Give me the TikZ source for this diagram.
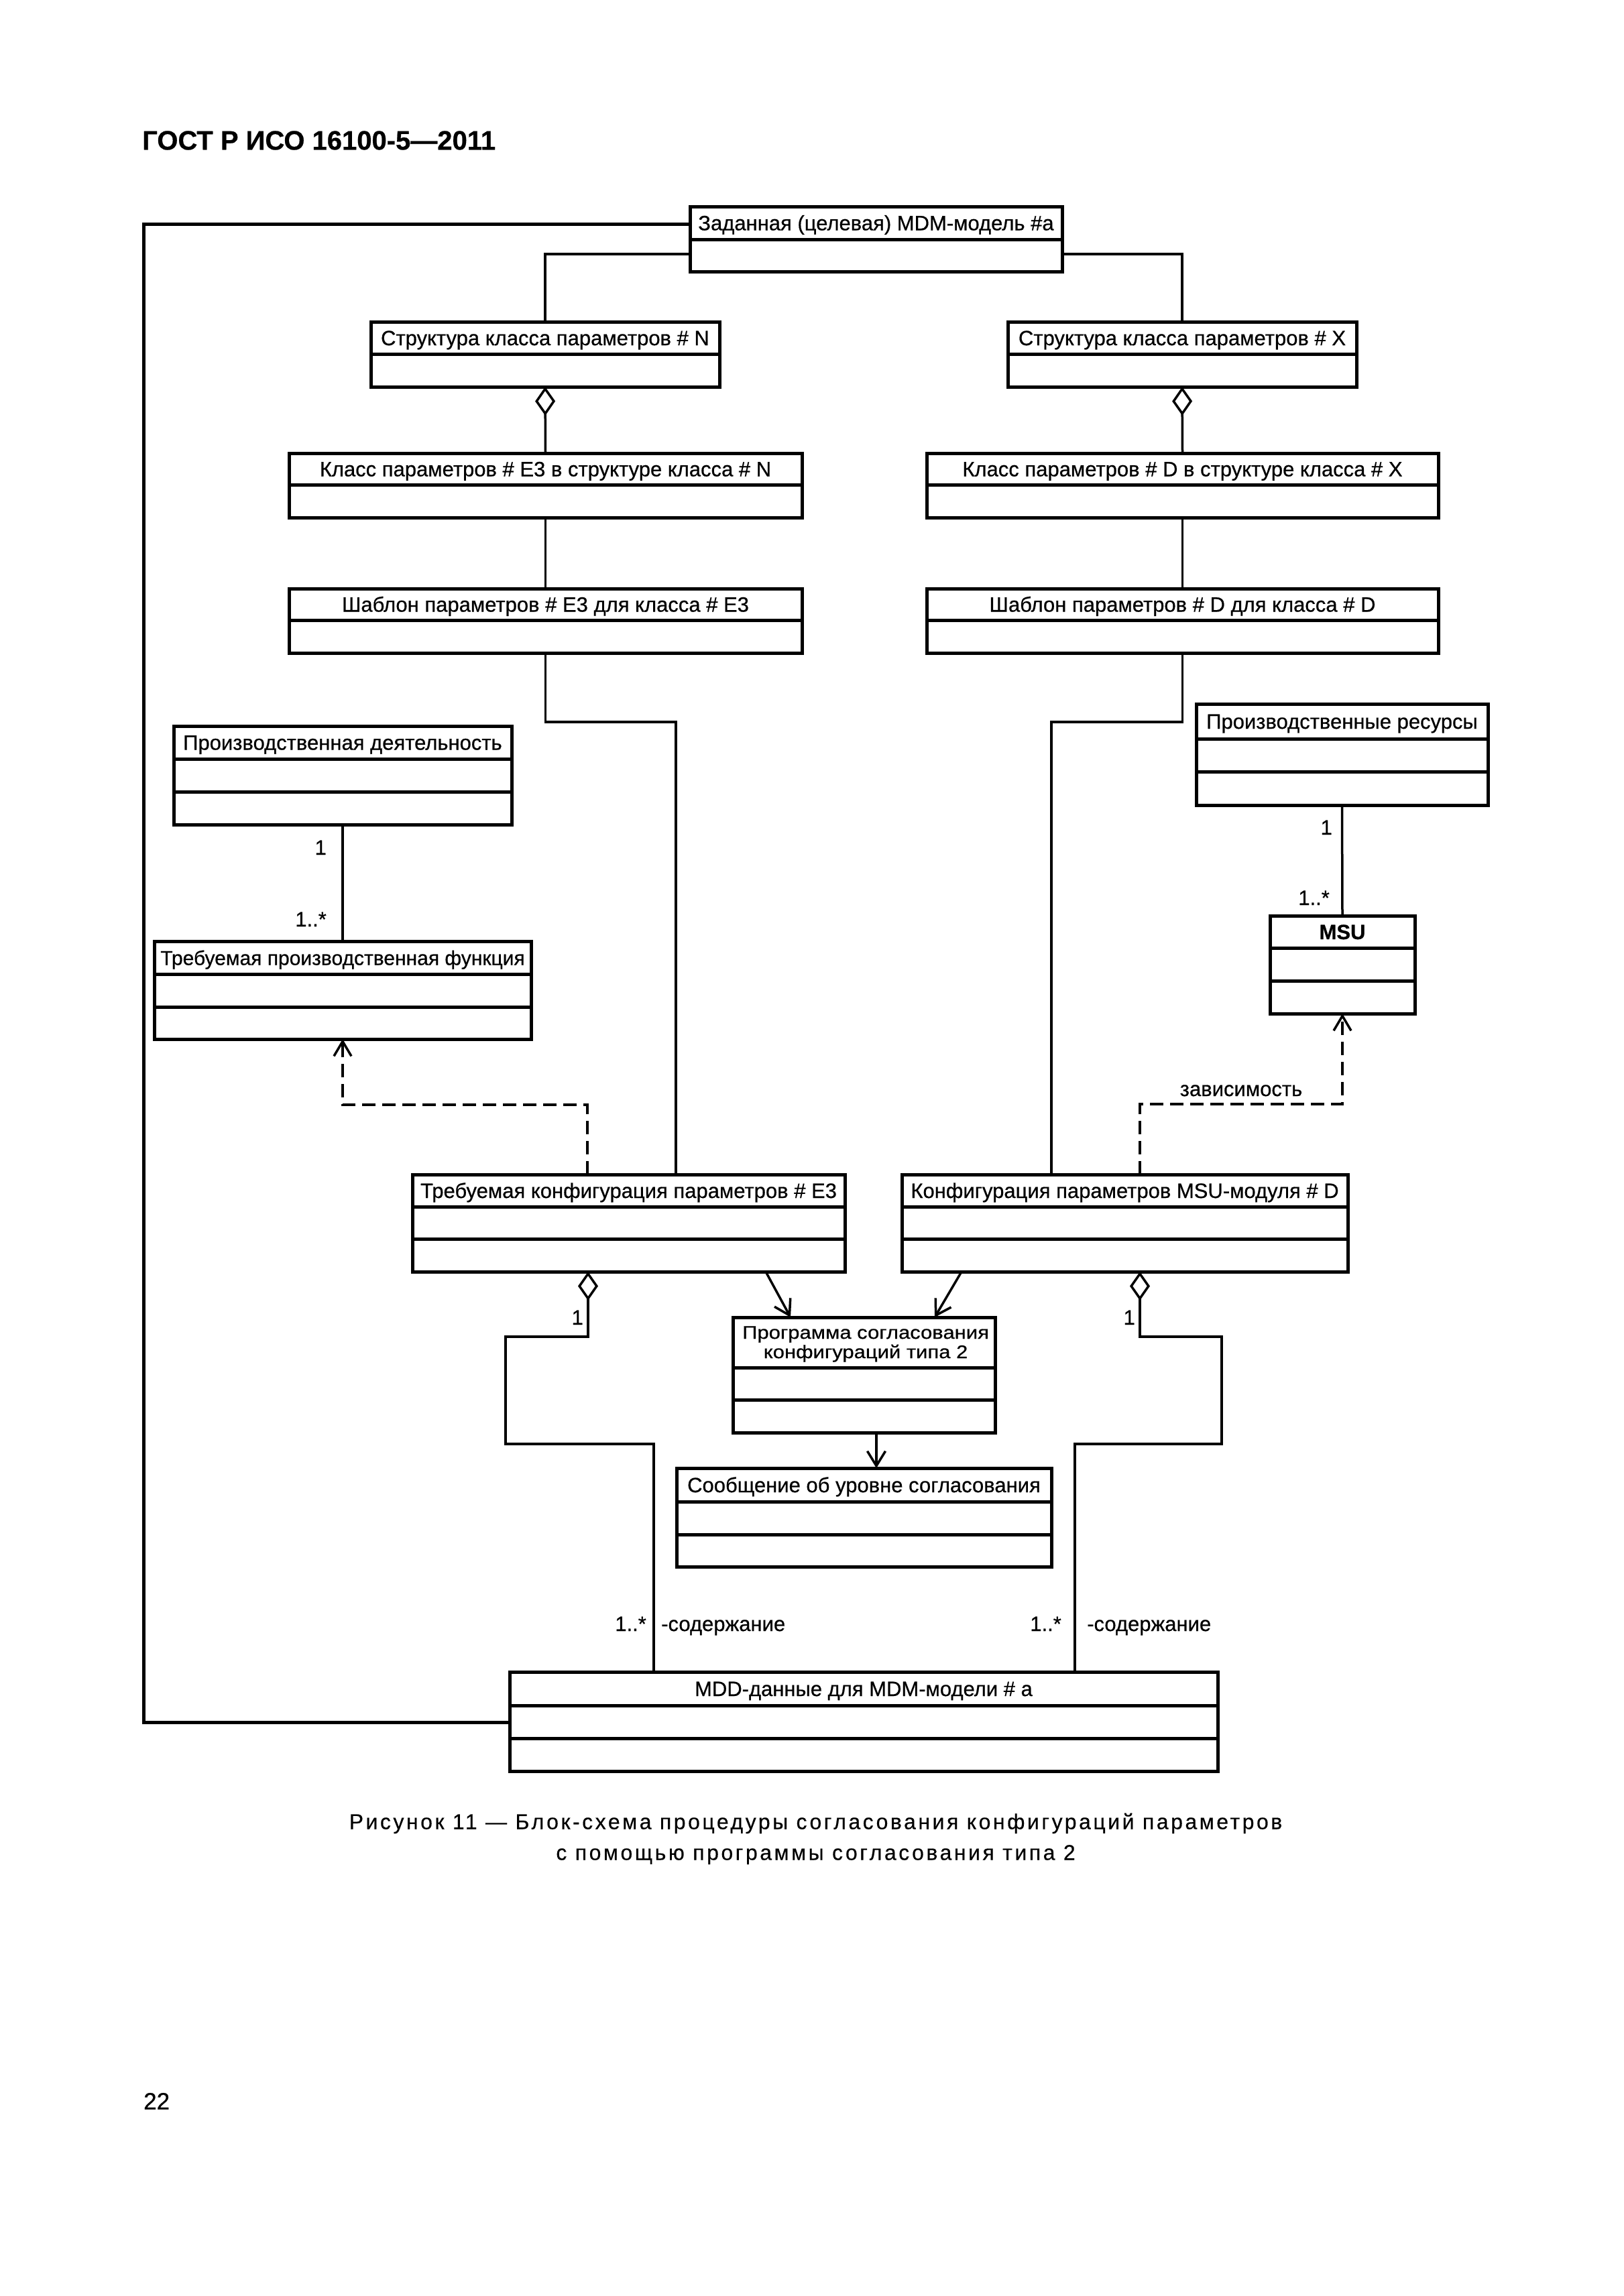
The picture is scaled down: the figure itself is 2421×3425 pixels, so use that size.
\documentclass[tikz,border=0pt]{standalone}
\usepackage{fontspec}
\setmainfont{Liberation Sans}[FakeBold=0.6]
\newfontfamily\capfont{Liberation Sans}[LetterSpace=11,FakeBold=0.4]
\usetikzlibrary{arrows.meta}
\tikzset{
  umlbox/.style={draw, rectangle, line width=5pt, inner sep=0pt, outer sep=0pt},
  boxline/.style={line width=5pt},
  lbl/.style={font=\fontsize{31}{32}\selectfont, inner sep=0pt, text height=22pt, text depth=0pt},
  conn/.style={line width=3.5pt},
  fb/.style={line width=5pt},
  arr/.style={conn, -{Straight Barb[length=22pt,width=27pt]}},
  dep/.style={conn, dash pattern=on 20pt off 10pt, -{Straight Barb[length=22pt,width=26pt]}},
  agg/.style={conn, {Diamond[fill=white,length=43pt,width=30pt]}-},
}
% #1 name, #2 left, #3 right, #4 top, #5 divider, #6 bottom, #7 text
\newcommand{\uboxii}[7]{%
  \node[umlbox, minimum width={#3-#2}, minimum height={#6-#4}] (#1) at ({(#2+#3)/2},{(#4+#6)/2}) {};
  \draw[boxline] (#2,#5) -- (#3,#5);
  \node[lbl] (#1-t) at ({(#2+#3)/2},{(#4+#5)/2}) {#7};
}
% #1 name, #2 left, #3 right, #4 top, #5 div1, #6 div2, #7 bottom, #8 text
\newcommand{\uboxiii}[8]{%
  \node[umlbox, minimum width={#3-#2}, minimum height={#7-#4}] (#1) at ({(#2+#3)/2},{(#4+#7)/2}) {};
  \draw[boxline] (#2,#5) -- (#3,#5);
  \draw[boxline] (#2,#6) -- (#3,#6);
  \node[lbl] (#1-t) at ({(#2+#3)/2},{(#4+#5)/2}) {#8};
}
\begin{document}
\begin{tikzpicture}[x=1pt,y=-1pt]
\fill[white] (0,0) rectangle (2421,3425);
\useasboundingbox (0,0) rectangle (2421,3425);

\node[anchor=west, inner sep=0pt, font=\bfseries\fontsize{40}{42}\selectfont] (title) at (212,209.5) {ГОСТ Р ИСО 16100-5—2011};

\uboxii{model}{1029}{1584}{308}{357}{405}{Заданная (целевая) MDM-модель \#a}
\uboxii{sN}{553}{1073}{480}{528}{577}{Структура класса параметров \# N}
\uboxii{sX}{1503}{2023}{480}{528}{577}{Структура класса параметров \# X}
\uboxii{cE}{431}{1196}{676}{723}{772}{Класс параметров \# Е3 в структуре класса \# N}
\uboxii{cD}{1382}{2145}{676}{723}{772}{Класс параметров \# D в структуре класса \# X}
\uboxii{tE}{431}{1196}{878}{925}{974}{Шаблон параметров \# Е3 для класса \# Е3}
\uboxii{tD}{1382}{2145}{878}{925}{974}{Шаблон параметров \# D для класса \# D}
\uboxiii{pact}{259}{763}{1083}{1132}{1181}{1230}{Производственная деятельность}
\uboxiii{pres}{1784}{2219}{1050}{1102}{1151}{1201}{Производственные ресурсы}
\uboxiii{rfunc}{230}{792}{1404}{1453}{1502}{1550}{\fontsize{30}{32}\selectfont Требуемая производственная функция}
\uboxiii{msu}{1894}{2110}{1366}{1414}{1463}{1512}{\bfseries MSU}
\uboxiii{rcfg}{615}{1260}{1752}{1800}{1848}{1897}{Требуемая конфигурация параметров \# Е3}
\uboxiii{mcfg}{1345}{2010}{1752}{1800}{1848}{1897}{Конфигурация параметров MSU-модуля \# D}
\uboxiii{msg}{1009}{1568}{2190}{2240}{2289}{2337}{Сообщение об уровне согласования}
\uboxiii{mdd}{760}{1816}{2494}{2544}{2593}{2642}{MDD-данные для MDM-модели \# a}
% program box with two-line header
\node[umlbox, minimum width=391, minimum height=172] (prog) at (1288.5,2051) {};
\draw[boxline] (1093,2040) -- (1484,2040);
\draw[boxline] (1093,2088) -- (1484,2088);
\node[anchor=base, inner sep=0pt, font=\fontsize{31}{32}\selectfont] (prog-t1) at (1291,1997) {\scalebox{1}[0.88]{Программа согласования}};
\node[anchor=base, inner sep=0pt, font=\fontsize{31}{32}\selectfont] (prog-t2) at (1291,2026) {\scalebox{1}[0.88]{конфигураций типа 2}};

% connectors
\draw[conn] (model.west |- 0,379) -| (sN.north);
\draw[conn] (model.east |- 0,379) -| (sX.north);
\draw[agg] (sN.south) -- (cE.north);
\draw[agg] (sX.south) -- (cD.north);
\draw[conn] (cE.south) -- (tE.north);
\draw[conn] (cD.south) -- (tD.north);
\draw[conn] (tE.south) |- (1008,1077) -- (rcfg.north -| 1008,0);
\draw[conn] (tD.south) |- (1568,1077) -- (mcfg.north -| 1568,0);
\draw[conn] (pact.south) -- (rfunc.north);
\draw[conn] (pres.south) -- (msu.north);
\draw[dep] (rcfg.north -| 876,0) |- (rfunc.south |- 0,1648) -- (rfunc.south);
\draw[dep] (mcfg.north -| 1700,0) |- (msu.south |- 0,1647) -- (msu.south);
\draw[arr] (rcfg.south -| 1142,0) -- (prog.north -| 1179,0);
\draw[arr] (mcfg.south -| 1434,0) -- (prog.north -| 1394,0);
\draw[arr] (prog.south -| 1307,0) -- (msg.north -| 1307,0);
\draw[agg] (rcfg.south -| 877,0) |- (754,1994) |- (975,2154) -- (mdd.north -| 975,0);
\draw[agg] (mcfg.south -| 1700,0) |- (1822,1994) |- (1603,2154) -- (mdd.north -| 1603,0);
\draw[fb] (model.west |- 0,334) -| (214,2569) -- (mdd.west |- 0,2569);

% multiplicities and labels
\node[lbl, anchor=east] (m1) at (487,1264) {1};
\node[lbl, anchor=east] (m2) at (487,1371) {1..*};
\node[lbl, anchor=east] (m3) at (1987,1234) {1};
\node[lbl, anchor=east] (m4) at (1983,1339) {1..*};
\node[lbl] (dlab) at (1851,1624) {зависимость};
\node[lbl, anchor=east] (m5) at (870,1965) {1};
\node[lbl, anchor=east] (m6) at (1693,1965) {1};
\node[lbl, anchor=east] (m7) at (964,2422) {1..*};
\node[lbl, anchor=west] (r1) at (986,2422) {-содержание};
\node[lbl, anchor=east] (m8) at (1583,2422) {1..*};
\node[lbl, anchor=west] (r2) at (1621,2422) {-содержание};

% caption
\node[inner sep=0pt, font=\capfont\fontsize{32}{34}\selectfont, text height=23pt, text depth=0pt] (cap1) at (1216.5,2717) {Рисунок 11 — Блок-схема процедуры согласования конфигураций параметров};
\node[inner sep=0pt, font=\capfont\fontsize{32}{34}\selectfont, text height=23pt, text depth=0pt] (cap2) at (1216.5,2763) {с помощью программы согласования типа 2};

\node[anchor=west, inner sep=0pt, font=\fontsize{35}{36}\selectfont, text height=25pt, text depth=0pt] (page) at (214,3134) {22};
\end{tikzpicture}
\end{document}
